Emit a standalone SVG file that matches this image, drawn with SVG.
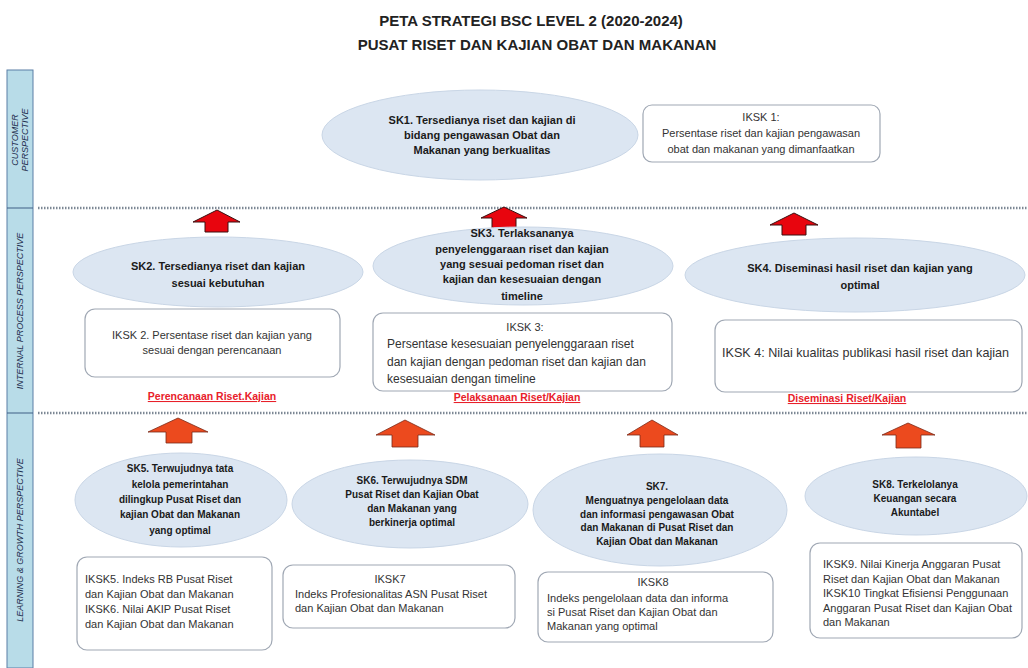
<svg xmlns="http://www.w3.org/2000/svg" width="1028" height="668" viewBox="0 0 1028 668">
<style>
.t{font-family:"Liberation Sans",Arial,sans-serif;}
.title{font-size:15px;font-weight:bold;fill:#222;text-anchor:middle;}
.band{fill:#B8DCE8;stroke:#5B7FA6;stroke-width:1;}
.bl{font-size:9px;fill:#1F2F4F;text-anchor:middle;font-style:italic;}
.el{fill:#DCE6F2;stroke:#C9D6E6;stroke-width:1;}
.et{font-size:10px;font-weight:bold;fill:#1a1a1a;text-anchor:middle;}
.et2{font-size:11px;font-weight:bold;fill:#1a1a1a;text-anchor:middle;}
.box{fill:#FFFFFF;stroke:#A0A8B4;stroke-width:1.2;}
.bt{font-size:11px;fill:#333;}
.bt2{font-size:12px;fill:#333;}
.bt3{font-size:12.6px;fill:#333;}
.c{text-anchor:middle;}
.red{font-size:10.5px;font-weight:bold;fill:#E8202A;text-anchor:middle;text-decoration:underline;}
.dot{stroke:#7C8794;stroke-width:2.5;stroke-dasharray:1.5 1.5;fill:none;}
.ar{fill:#E8050E;stroke:#3a1010;stroke-width:1;stroke-linejoin:miter;}
.ar2{fill:#EC4A1E;stroke:#7a2a18;stroke-width:0.8;}
</style>

<g id="title">
<text class="t title" x="531" y="26">PETA STRATEGI BSC LEVEL 2 (2020-2024)</text>
<text class="t title" x="537" y="50">PUSAT RISET DAN KAJIAN OBAT DAN MAKANAN</text>
</g>

<g id="perspectives">
<rect class="band" x="7" y="70" width="26" height="598"/>
<line x1="7" y1="208" x2="33" y2="208" stroke="#3F5F85" stroke-width="1"/>
<line x1="7" y1="413" x2="33" y2="413" stroke="#3F5F85" stroke-width="1"/>
<text class="t bl" transform="translate(18,140) rotate(-90)"><tspan x="0" y="0">CUSTOMER</tspan><tspan x="0" y="10">PERSPECTIVE</tspan></text>
<text class="t bl" transform="translate(23,311) rotate(-90)">INTERNAL PROCESS PERSPECTIVE</text>
<text class="t bl" transform="translate(23,540) rotate(-90)">LEARNING &amp; GROWTH PERSPECTIVE</text>
</g>

<g id="separators">
<line class="dot" x1="38" y1="208" x2="1028" y2="208"/>
<line class="dot" x1="38" y1="413" x2="1028" y2="413"/>
</g>

<g id="connectors">
<polygon class="ar" points="217,210 240,222 228,222 228,232 205,232 205,222 193,222"/>
<polygon class="ar" points="504,207 527,218 516,218 516,230 492,230 492,218 481,218"/>
<polygon class="ar" points="794,213 818,225 806,225 806,235 782,235 782,225 770,225"/>
<polygon class="ar2" points="178,418 208,432 192,432 192,443 166,443 166,432 148,432"/>
<polygon class="ar2" points="405,420 435,435 418,435 418,447 392,447 392,435 376,435"/>
<polygon class="ar2" points="652,420 678,435 664,435 664,447 640,447 640,435 627,435"/>
<polygon class="ar2" points="908,423 935,435 921,435 921,448 896,448 896,435 882,435"/>
</g>

<g id="SK1">
<ellipse class="el" cx="480" cy="135" rx="158" ry="45"/>
<text class="t et2"><tspan x="482" y="124">SK1. Tersedianya riset dan kajian di</tspan><tspan x="482" y="139">bidang pengawasan Obat dan</tspan><tspan x="482" y="154">Makanan yang berkualitas</tspan></text>
</g>
<g id="IKSK1">
<rect class="box" x="643" y="105" width="237" height="57" rx="9"/>
<text class="t bt c"><tspan x="761" y="121">IKSK 1:</tspan><tspan x="761" y="137">Persentase riset dan kajian pengawasan</tspan><tspan x="761" y="153">obat dan makanan yang dimanfaatkan</tspan></text>
</g>

<g id="SK2">
<ellipse class="el" cx="218" cy="272" rx="145" ry="35"/>
<text class="t et2"><tspan x="218" y="270">SK2. Tersedianya riset dan kajian</tspan><tspan x="218" y="287">sesuai kebutuhan</tspan></text>
</g>
<g id="IKSK2">
<rect class="box" x="85" y="309" width="255" height="68" rx="10"/>
<text class="t bt c"><tspan x="212" y="339">IKSK 2. Persentase riset dan kajian yang</tspan><tspan x="212" y="354">sesuai dengan perencanaan</tspan></text>
</g>
<text class="t red" x="212" y="400">Perencanaan Riset.Kajian</text>

<g id="SK3">
<ellipse class="el" cx="523" cy="266" rx="150" ry="39"/>
<text class="t et2"><tspan x="522" y="237">SK3. Terlaksananya</tspan><tspan x="522" y="253">penyelenggaraan riset dan kajian</tspan><tspan x="522" y="268">yang sesuai pedoman riset dan</tspan><tspan x="522" y="283">kajian dan kesesuaian dengan</tspan><tspan x="522" y="300">timeline</tspan></text>
</g>
<g id="IKSK3">
<rect class="box" x="373" y="313" width="299" height="78" rx="10"/>
<text class="t bt c" x="525" y="331">IKSK 3:</text>
<text class="t bt2"><tspan x="387" y="348">Persentase kesesuaian penyelenggaraan riset</tspan><tspan x="387" y="366">dan kajian dengan pedoman riset dan kajian dan</tspan><tspan x="387" y="383">kesesuaian dengan timeline</tspan></text>
</g>
<text class="t red" x="517" y="401">Pelaksanaan Riset/Kajian</text>

<g id="SK4">
<ellipse class="el" cx="855" cy="275" rx="170" ry="37"/>
<text class="t et2"><tspan x="860" y="272">SK4. Diseminasi hasil riset dan kajian yang</tspan><tspan x="860" y="289">optimal</tspan></text>
</g>
<g id="IKSK4">
<rect class="box" x="715" y="320" width="307" height="72" rx="10"/>
<text class="t bt3" x="722" y="357">IKSK 4: Nilai kualitas publikasi hasil riset dan kajian</text>
</g>
<text class="t red" x="847" y="402">Diseminasi Riset/Kajian</text>

<g id="SK5">
<ellipse class="el" cx="181" cy="500" rx="106" ry="47"/>
<text class="t et"><tspan x="180" y="472">SK5. Terwujudnya tata</tspan><tspan x="180" y="488">kelola pemerintahan</tspan><tspan x="180" y="503">dilingkup Pusat Riset dan</tspan><tspan x="180" y="518">kajian Obat dan Makanan</tspan><tspan x="180" y="534">yang optimal</tspan></text>
</g>
<g id="IKSK5">
<rect class="box" x="77" y="557" width="195" height="93" rx="10"/>
<text class="t bt"><tspan x="85" y="583">IKSK5. Indeks RB Pusat Riset</tspan><tspan x="85" y="598">dan Kajian Obat dan Makanan</tspan><tspan x="85" y="613">IKSK6. Nilai AKIP Pusat Riset</tspan><tspan x="85" y="628">dan Kajian Obat dan Makanan</tspan></text>
</g>

<g id="SK6">
<ellipse class="el" cx="410" cy="504" rx="118" ry="44"/>
<text class="t et"><tspan x="412" y="484">SK6. Terwujudnya SDM</tspan><tspan x="412" y="498">Pusat Riset dan Kajian Obat</tspan><tspan x="412" y="512">dan Makanan  yang</tspan><tspan x="412" y="526">berkinerja optimal</tspan></text>
</g>
<g id="IKSK7">
<rect class="box" x="283" y="565" width="232" height="63" rx="10"/>
<text class="t bt c" x="390" y="583">IKSK7</text>
<text class="t bt"><tspan x="295" y="598">Indeks Profesionalitas ASN Pusat Riset</tspan><tspan x="295" y="612">dan Kajian Obat dan Makanan</tspan></text>
</g>

<g id="SK7">
<ellipse class="el" cx="660" cy="510" rx="127" ry="56"/>
<text class="t et"><tspan x="657" y="490">SK7.</tspan><tspan x="657" y="504">Menguatnya pengelolaan data</tspan><tspan x="657" y="518">dan informasi pengawasan Obat</tspan><tspan x="657" y="531">dan Makanan di Pusat Riset dan</tspan><tspan x="657" y="545">Kajian Obat dan Makanan</tspan></text>
</g>
<g id="IKSK8">
<rect class="box" x="538" y="572" width="235" height="70" rx="10"/>
<text class="t bt c" x="653" y="586">IKSK8</text>
<text class="t bt"><tspan x="547" y="602">Indeks pengelolaan data dan informa</tspan><tspan x="547" y="616">si Pusat Riset dan Kajian Obat dan</tspan><tspan x="547" y="630">Makanan yang optimal</tspan></text>
</g>

<g id="SK8">
<ellipse class="el" cx="916" cy="496" rx="111" ry="39"/>
<text class="t et"><tspan x="915" y="488">SK8. Terkelolanya</tspan><tspan x="915" y="502">Keuangan secara</tspan><tspan x="915" y="516">Akuntabel</tspan></text>
</g>
<g id="IKSK9">
<rect class="box" x="810" y="543" width="212" height="95" rx="10"/>
<text class="t bt"><tspan x="823" y="568">IKSK9. Nilai Kinerja Anggaran Pusat</tspan><tspan x="823" y="583">Riset dan Kajian Obat dan Makanan</tspan><tspan x="823" y="597">IKSK10 Tingkat Efisiensi Penggunaan</tspan><tspan x="823" y="612">Anggaran Pusat Riset dan Kajian Obat</tspan><tspan x="823" y="626">dan Makanan</tspan></text>
</g>
</svg>
